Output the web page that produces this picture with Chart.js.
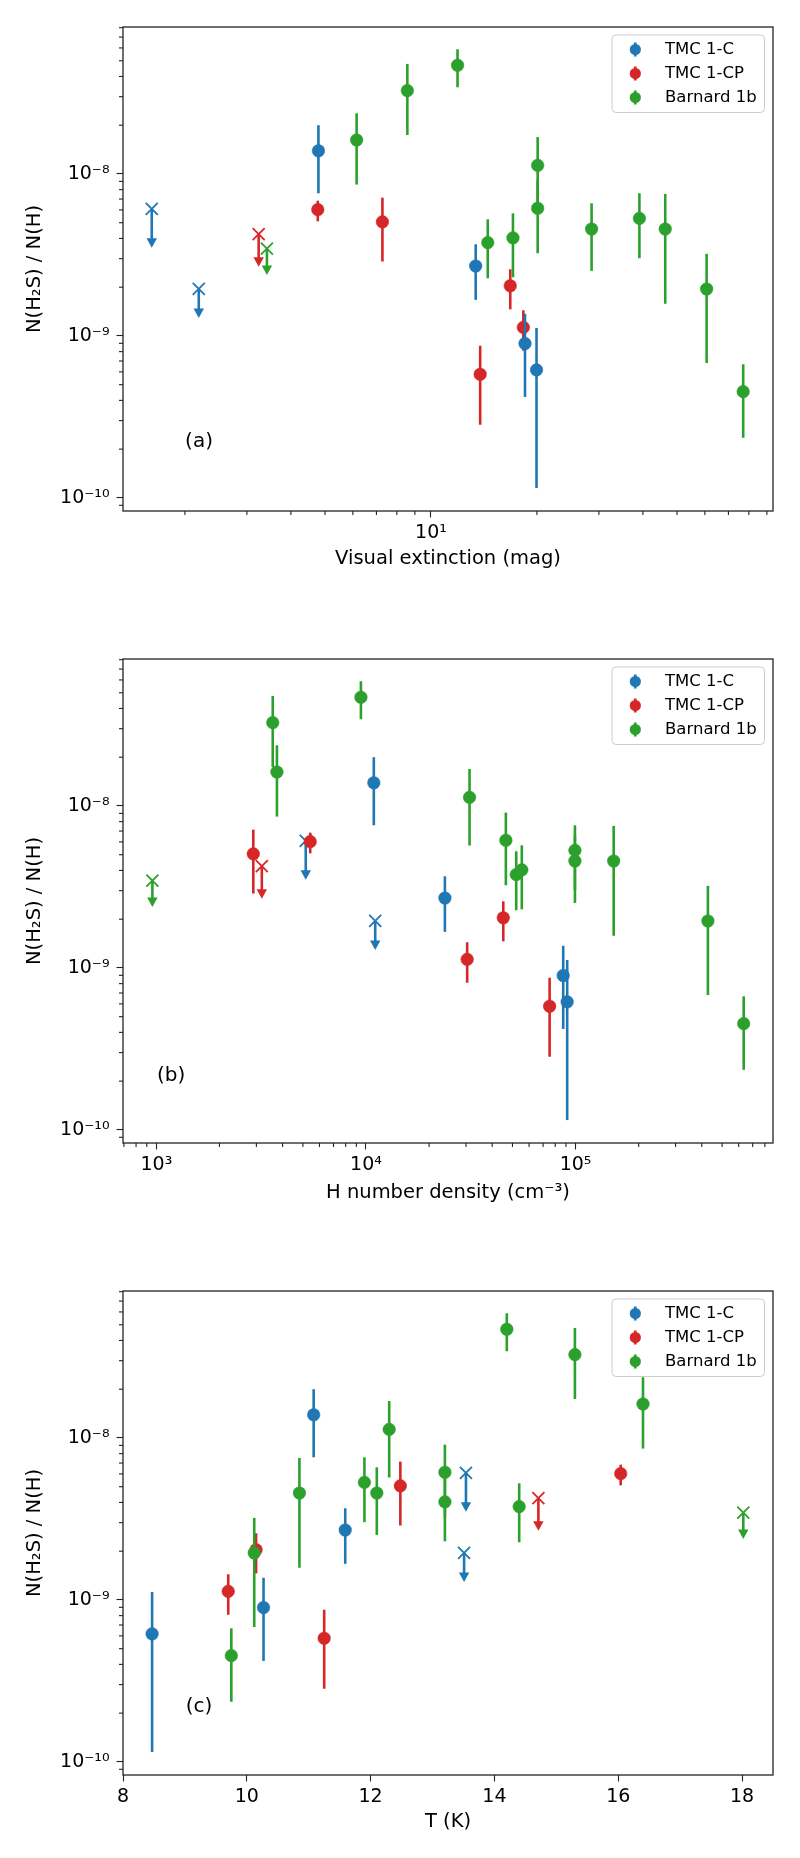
<!DOCTYPE html>
<html>
<head>
<meta charset="utf-8">
<script src="https://cdn.jsdelivr.net/npm/chart.js@4.4.1/dist/chart.umd.min.js"></script>
<style>
  html, body { margin: 0; padding: 0; background: #fff; }
  #wrap { position: relative; width: 800px; height: 1858px; }
  canvas { position: absolute; left: 0; }
</style>
</head>
<body>
<div id="wrap">
  <canvas id="panelA" width="800" height="632" style="top:0px"></canvas>
  <canvas id="panelB" width="800" height="632" style="top:632px"></canvas>
  <canvas id="panelC" width="800" height="594" style="top:1264px"></canvas>
</div>
<script>
// TMC 1-C detections
const tmc1cAv = [4.79, 13.4, 18.5, 19.95];
const tmc1cNH = [10900, 23800, 87300, 91200];
const tmc1cT = [11.08, 11.59, 10.27, 8.47];
const tmc1cY = [1.39e-8, 2.70e-9, 8.97e-10, 6.17e-10];
const tmc1cLo = [7.6e-9, 1.67e-9, 4.2e-10, 1.15e-10];
const tmc1cHi = [2.0e-8, 3.68e-9, 1.37e-9, 1.12e-9];
// TMC 1-C upper limits
const tmc1cLimAv = [1.61, 2.19];
const tmc1cLimNH = [5160, 11070];
const tmc1cLimT = [13.54, 13.51];
const tmc1cLimY = [6.08e-9, 1.95e-9];
const tmc1cLimTip = [3.5e-9, 1.29e-9];

// TMC 1-CP detections
const tmc1cpAv = [4.77, 7.28, 16.8, 18.3, 13.8];
const tmc1cpNH = [5420, 2900, 45200, 30400, 75200];
const tmc1cpT = [16.04, 12.48, 10.15, 9.70, 11.25];
const tmc1cpY = [6.02e-9, 5.06e-9, 2.04e-9, 1.13e-9, 5.8e-10];
const tmc1cpLo = [5.1e-9, 2.88e-9, 1.46e-9, 8.1e-10, 2.83e-10];
const tmc1cpHi = [6.84e-9, 7.14e-9, 2.58e-9, 1.44e-9, 8.7e-10];
// TMC 1-CP upper limits
const tmc1cpLimAv = [3.24];
const tmc1cpLimNH = [3185];
const tmc1cpLimT = [14.71];
const tmc1cpLimY = [4.25e-9];
const tmc1cpLimTip = [2.67e-9];

// Barnard 1b detections
const b1bAv = [6.15, 8.57, 11.9, 14.5, 17.1, 20.1, 20.1, 28.6, 39.1, 46.3, 60.7, 77.1];
const b1bNH = [3760, 3590, 9460, 52100, 55400, 31200, 46500, 99300, 99300, 152000, 428000, 634000];
const b1bT = [16.40, 15.30, 14.20, 14.40, 13.20, 12.30, 13.20, 12.10, 11.90, 10.85, 10.12, 9.75];
const b1bY = [1.62e-8, 3.27e-8, 4.69e-8, 3.77e-9, 4.03e-9, 1.13e-8, 6.14e-9, 4.57e-9, 5.32e-9, 4.57e-9, 1.95e-9, 4.53e-10];
const b1bLo = [8.6e-9, 1.74e-8, 3.43e-8, 2.27e-9, 2.30e-9, 5.7e-9, 3.24e-9, 2.52e-9, 3.02e-9, 1.58e-9, 6.8e-10, 2.35e-10];
const b1bHi = [2.37e-8, 4.78e-8, 5.89e-8, 5.25e-9, 5.71e-9, 1.69e-8, 9.1e-9, 6.59e-9, 7.6e-9, 7.53e-9, 3.21e-9, 6.68e-10];
// Barnard 1b upper limits
const b1bLimAv = [3.42];
const b1bLimNH = [957];
const b1bLimT = [18.02];
const b1bLimY = [3.46e-9];
const b1bLimTip = [2.38e-9];

// ticks
const yTicks = [1e-10, 1e-9, 1e-8];
const yTickLabels = ['10\u207B\u00B9\u2070', '10\u207B\u2079', '10\u207B\u2078'];
const avTicks = [10];
const avTickLabels = ['10\u00B9'];
const nhTicks = [1e3, 1e4, 1e5];
const nhTickLabels = ['10\u00B3', '10\u2074', '10\u2075'];
const tTicks = [8, 10, 12, 14, 16, 18];
const tTickLabels = ['8', '10', '12', '14', '16', '18'];

const yMin = 8.3e-11;
const yMax = 8.08e-8;

// order: higher is drawn first (limits under detections, red under blue under green)
const series = [
  { name: 'TMC 1-C', color: '#1f77b4', order: 2, limOrder: 10,
    x: { av: tmc1cAv, nh: tmc1cNH, t: tmc1cT }, y: tmc1cY, lo: tmc1cLo, hi: tmc1cHi,
    limX: { av: tmc1cLimAv, nh: tmc1cLimNH, t: tmc1cLimT }, limY: tmc1cLimY, limTip: tmc1cLimTip },
  { name: 'TMC 1-CP', color: '#d62728', order: 3, limOrder: 9,
    x: { av: tmc1cpAv, nh: tmc1cpNH, t: tmc1cpT }, y: tmc1cpY, lo: tmc1cpLo, hi: tmc1cpHi,
    limX: { av: tmc1cpLimAv, nh: tmc1cpLimNH, t: tmc1cpLimT }, limY: tmc1cpLimY, limTip: tmc1cpLimTip },
  { name: 'Barnard 1b', color: '#2ca02c', order: 1, limOrder: 8,
    x: { av: b1bAv, nh: b1bNH, t: b1bT }, y: b1bY, lo: b1bLo, hi: b1bHi,
    limX: { av: b1bLimAv, nh: b1bLimNH, t: b1bLimT }, limY: b1bLimY, limTip: b1bLimTip },
];

Chart.defaults.font.family = '"DejaVu Sans", sans-serif';
Chart.defaults.color = '#000';

// error bars and upper-limit arrows, drawn under each dataset's markers
const errorBars = {
  id: 'errorBars',
  beforeDatasetDraw(chart, args) {
    const ds = chart.data.datasets[args.index];
    const pts = args.meta.data;
    const ys = chart.scales.y;
    const ctx = chart.ctx;
    ctx.save();
    ctx.strokeStyle = ds.barColor;
    ctx.fillStyle = ds.barColor;
    ctx.lineWidth = 2.6;
    ds.data.forEach((d, j) => {
      const px = pts[j].x;
      if (ds.kind === 'det') {
        ctx.beginPath();
        ctx.moveTo(px, ys.getPixelForValue(d.hi));
        ctx.lineTo(px, ys.getPixelForValue(d.lo));
        ctx.stroke();
      } else {
        const top = ys.getPixelForValue(d.y);
        const tip = ys.getPixelForValue(d.tip);
        ctx.beginPath();
        ctx.moveTo(px, top);
        ctx.lineTo(px, tip - 8);
        ctx.stroke();
        ctx.beginPath();
        ctx.moveTo(px - 5.2, tip - 9.5);
        ctx.lineTo(px + 5.2, tip - 9.5);
        ctx.lineTo(px, tip);
        ctx.closePath();
        ctx.fill();
      }
    });
    ctx.restore();
  }
};

// frame, minor ticks, panel tag, legend
const decor = {
  id: 'decor',
  afterDraw(chart, args, opts) {
    const { ctx, chartArea: ca, scales } = chart;
    ctx.save();
    ctx.strokeStyle = '#222';
    ctx.lineWidth = 1.1;
    const minor = (scale, horiz) => {
      if (scale.type !== 'logarithmic') return;
      const e0 = Math.floor(Math.log10(scale.min));
      const e1 = Math.ceil(Math.log10(scale.max));
      for (let e = e0; e <= e1; e++) {
        for (let k = 2; k <= 9; k++) {
          const v = k * Math.pow(10, e);
          if (v < scale.min || v > scale.max) continue;
          const p = scale.getPixelForValue(v);
          ctx.beginPath();
          if (horiz) { ctx.moveTo(p, ca.bottom); ctx.lineTo(p, ca.bottom + 4); }
          else { ctx.moveTo(ca.left, p); ctx.lineTo(ca.left - 4, p); }
          ctx.stroke();
        }
      }
    };
    minor(scales.x, true);
    minor(scales.y, false);
    ctx.lineWidth = 1.3;
    ctx.strokeRect(ca.left, ca.top, ca.width, ca.height);

    ctx.fillStyle = '#000';
    ctx.font = '20px "DejaVu Sans"';
    ctx.textAlign = 'center';
    ctx.textBaseline = 'middle';
    ctx.fillText(opts.tag, ca.left + opts.tagX * ca.width, ca.top + opts.tagY * ca.height);

    // legend
    const lx = ca.right - 161, ly = ca.top + 8;
    ctx.beginPath();
    ctx.roundRect(lx, ly, 152.5, 77.5, 4);
    ctx.fillStyle = 'rgba(255,255,255,0.8)';
    ctx.fill();
    ctx.strokeStyle = '#cccccc';
    ctx.lineWidth = 1;
    ctx.stroke();
    const items = chart.data.datasets.filter(d => d.kind === 'det');
    items.forEach((d, i) => {
      const cy = ca.top + 22.5 + i * 24;
      const mx = ca.right - 137.7;
      ctx.strokeStyle = d.barColor;
      ctx.fillStyle = d.barColor;
      ctx.lineWidth = 2.6;
      ctx.beginPath();
      ctx.moveTo(mx, cy - 7);
      ctx.lineTo(mx, cy + 7);
      ctx.stroke();
      ctx.beginPath();
      ctx.arc(mx, cy, 5.6, 0, Math.PI * 2);
      ctx.fill();
      ctx.fillStyle = '#000';
      ctx.font = '16.5px "DejaVu Sans"';
      ctx.textAlign = 'left';
      ctx.textBaseline = 'middle';
      ctx.fillText(d.label, ca.right - 108, cy);
    });
    ctx.restore();
  }
};

const panels = [
  { id: 'panelA', key: 'av', type: 'logarithmic', min: 1.334, max: 93.7, ticks: avTicks, labels: avTickLabels,
    title: 'Visual extinction (mag)', tag: '(a)', tagX: 0.117, tagY: 0.857, height: 632, titlePad: 61 },
  { id: 'panelB', key: 'nh', type: 'logarithmic', min: 693, max: 8.75e5, ticks: nhTicks, labels: nhTickLabels,
    title: 'H number density (cm\u207B\u00B3)', tag: '(b)', tagX: 0.074, tagY: 0.861, height: 632, titlePad: 59 },
  { id: 'panelC', key: 't', type: 'linear', min: 8, max: 18.5, ticks: tTicks, labels: tTickLabels,
    title: 'T (K)', tag: '(c)', tagX: 0.117, tagY: 0.86, height: 594, titlePad: 24 },
];

panels.forEach(p => {
  const datasets = [];
  series.forEach(s => {
    datasets.push({
      label: s.name, kind: 'det', barColor: s.color, order: s.order,
      data: s.x[p.key].map((x, j) => ({ x: x, y: s.y[j], lo: s.lo[j], hi: s.hi[j] })),
      pointStyle: 'circle', pointRadius: 6.3, pointBackgroundColor: s.color,
      pointBorderColor: s.color, pointBorderWidth: 0.5,
    });
    datasets.push({
      label: s.name + ' limit', kind: 'lim', barColor: s.color, order: s.limOrder,
      data: s.limX[p.key].map((x, j) => ({ x: x, y: s.limY[j], tip: s.limTip[j] })),
      pointStyle: 'crossRot', pointRadius: 8.5, pointBorderColor: s.color,
      pointBorderWidth: 1.8, pointBackgroundColor: s.color,
    });
  });

  new Chart(document.getElementById(p.id), {
    type: 'scatter',
    data: { datasets: datasets },
    options: {
      responsive: false,
      devicePixelRatio: 1,
      animation: false,
      events: [],
      layout: { padding: { left: 0, right: 27, top: 27, bottom: 0 } },
      plugins: {
        legend: { display: false },
        tooltip: { enabled: false },
        decor: { tag: p.tag, tagX: p.tagX, tagY: p.tagY },
      },
      scales: {
        x: {
          type: p.type, min: p.min, max: p.max, bounds: 'data',
          afterBuildTicks: sc => { sc.ticks = p.ticks.map(v => ({ value: v })); },
          afterFit: sc => { sc.height = p.height - 511; },
          ticks: { callback: (v, i) => p.labels[i], font: { size: 19 }, color: '#000',
                   padding: 4, maxRotation: 0, autoSkip: false },
          grid: { drawOnChartArea: false, drawTicks: true, tickLength: 6.5, tickColor: '#222', tickWidth: 1.1 },
          border: { display: false },
          title: { display: true, text: p.title, font: { size: 19.5 }, color: '#000',
                   padding: { top: 0, bottom: p.titlePad } },
        },
        y: {
          type: 'logarithmic', min: yMin, max: yMax, bounds: 'data',
          afterBuildTicks: sc => { sc.ticks = yTicks.map(v => ({ value: v })); },
          afterFit: sc => { sc.width = 123; },
          ticks: { callback: (v, i) => yTickLabels[i], font: { size: 19 }, color: '#000',
                   padding: 7, autoSkip: false },
          grid: { drawOnChartArea: false, drawTicks: true, tickLength: 6.5, tickColor: '#222', tickWidth: 1.1 },
          border: { display: false },
          title: { display: true, text: 'N(H\u2082S) / N(H)', font: { size: 19.5 }, color: '#000',
                   padding: { top: 23, bottom: 0 } },
        },
      },
    },
    plugins: [errorBars, decor],
  });
});
</script>
</body>
</html>
